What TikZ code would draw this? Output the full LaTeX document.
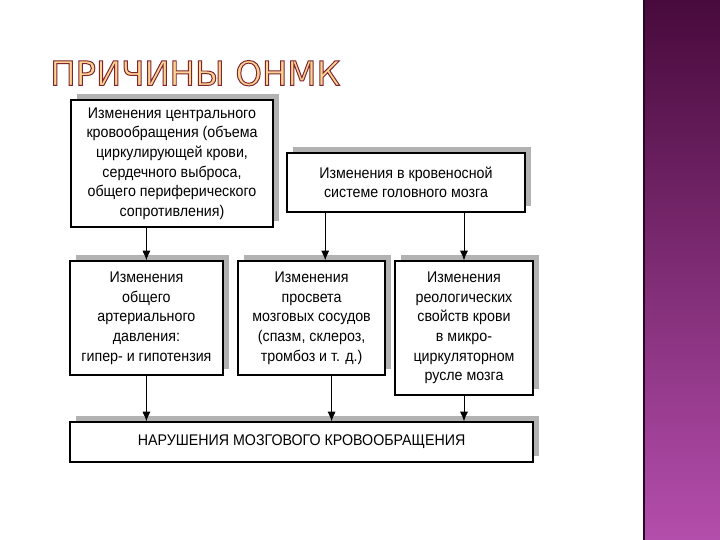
\documentclass[tikz,border=0pt]{standalone}
\usepackage{fontspec}
\setmainfont{Liberation Sans}[FakeStretch=0.92]
\newfontfamily\titlefont{DejaVu Sans}
\usetikzlibrary{arrows.meta,positioning,shadows,calc}
\definecolor{stripdark}{RGB}{72,10,60}
\definecolor{striplight}{RGB}{180,78,172}
\definecolor{titlefill}{RGB}{252,212,145}
\definecolor{shadowgray}{RGB}{178,178,178}
% outlined letters: fill and stroke
\newcommand{\outlined}[1]{\special{pdf:code q 2 Tr 0.7 w 0.5 0.14 0.19 RG}#1\special{pdf:code Q}}

\begin{document}
\begin{tikzpicture}[
  box/.style={draw=black, line width=1pt, fill=white, align=center,
    font=\fontsize{11}{14}\selectfont, inner sep=2pt,
    drop shadow={shadow xshift=0.15cm, shadow yshift=0.15cm, fill=shadowgray, opacity=1}},
  arr/.style={-{Latex[length=2.4mm,width=2mm]}, line width=0.6pt}
]
  \useasboundingbox (0,0) rectangle (18,-13.5);
  % purple band on the right
  \shade[top color=stripdark, bottom color=striplight] (16.075,0) rectangle (18,-13.5);
  \fill[stripdark!60!black] (16.075,0) rectangle (16.13,-13.5);
  % title
  \node[anchor=west, inner sep=0pt, text=titlefill, font=\titlefont\fontsize{24}{28}\selectfont] (title) at (1.25,-1.83)
    {\outlined{ПРИЧИНЫ ОНМК}};

  % first row
  \node[box, minimum width=5.05cm, minimum height=3.175cm] (central) at (4.3,-4.09)
    {Изменения центрального\\кровообращения (объема\\циркулирующей крови,\\сердечного выброса,\\общего периферического\\сопротивления)};
  \node[box, minimum width=5.95cm, minimum height=1.475cm] (vessels) at (10.15,-4.56)
    {Изменения в кровеносной\\системе головного мозга};

  % second row
  \node[box, minimum width=3.825cm, minimum height=2.85cm] (pressure) at (3.66,-7.95)
    {Изменения\\общего\\артериального\\давления:\\гипер- и гипотензия};
  \node[box, minimum width=3.675cm, minimum height=2.85cm] (lumen) at (7.79,-7.95)
    {Изменения\\просвета\\мозговых сосудов\\(спазм, склероз,\\тромбоз и т. д.)};
  \node[box, minimum width=3.45cm, minimum height=3.35cm] (rheology) at (11.6,-8.2)
    {Изменения\\реологических\\свойств крови\\в микро-\\циркуляторном\\русле мозга};

  % result
  \node[box, minimum width=11.575cm, minimum height=1cm] (result) at (7.54,-11.05)
    {НАРУШЕНИЯ МОЗГОВОГО КРОВООБРАЩЕНИЯ};

  \draw[arr] (central.south -| pressure.north) -- (pressure.north);
  \draw[arr] ([xshift=0.34cm]lumen.north |- vessels.south) -- ([xshift=0.34cm]lumen.north);
  \draw[arr] (vessels.south -| rheology.north) -- (rheology.north);

  \draw[arr] (pressure.south) -- (pressure.south |- result.north);
  \draw[arr] ([xshift=0.5cm]lumen.south) -- ([xshift=0.5cm]lumen.south |- result.north);
  \draw[arr] (rheology.south) -- (rheology.south |- result.north);
\end{tikzpicture}
\end{document}
